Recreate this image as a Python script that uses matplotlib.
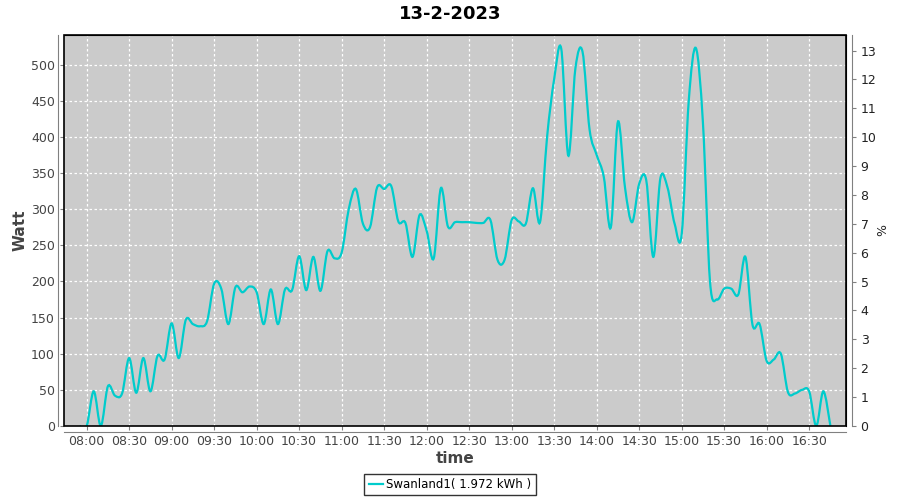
import matplotlib
matplotlib.use("Agg")
import matplotlib.pyplot as plt
from matplotlib.path import Path
from matplotlib.patches import PathPatch
from matplotlib.ticker import FixedLocator, FuncFormatter, MultipleLocator

title = "13-2-2023"
series_name = "Swanland1( 1.972 kWh )"
start_time = "07:55"
step_min = 5
watt = [0, 0, 48, 0, 55, 42, 45, 94, 46, 94, 48, 97, 92, 142, 94, 147, 141, 138,
        145, 197, 190, 141, 192, 185, 193, 185, 141, 189, 141, 189, 188, 235,
        188, 234, 187, 242, 232, 240, 300, 328, 280, 275, 330, 328, 332, 283,
        281, 234, 292, 270, 232, 329, 276, 282, 282, 282, 281, 281, 285, 230,
        230, 285, 283, 280, 329, 282, 400, 480, 522, 374, 495, 518, 410, 375,
        345, 275, 421, 330, 282, 335, 340, 234, 343, 330, 280, 265, 450, 523,
        420, 200, 175, 190, 190, 182, 234, 140, 141, 90, 92, 100, 47, 45, 50,
        48, 0, 48, 0]
tick_labels = ["08:00", "08:30", "09:00", "09:30", "10:00", "10:30", "11:00",
               "11:30", "12:00", "12:30", "13:00", "13:30", "14:00", "14:30",
               "15:00", "15:30", "16:00", "16:30"]


def to_min(s):
    h, m = s.split(":")
    return int(h) * 60 + int(m)


t0 = to_min(start_time)
times = [t0 + i * step_min for i in range(len(watt))]

fig = plt.figure(figsize=(9, 5), dpi=100)
ax = fig.add_axes([64 / 900, 1 - 426 / 500, (846 - 64) / 900, (426 - 35) / 500])
ax.set_facecolor("#cbcbcb")

# smooth curve through the points (like the spline renderer)
pts = list(zip(times, watt))
verts = [pts[0]]
codes = [Path.MOVETO]
for i in range(len(pts) - 1):
    p0 = pts[max(i - 1, 0)]
    p1 = pts[i]
    p2 = pts[i + 1]
    p3 = pts[min(i + 2, len(pts) - 1)]
    c1 = (p1[0] + (p2[0] - p0[0]) / 6, p1[1] + (p2[1] - p0[1]) / 6)
    c2 = (p2[0] - (p3[0] - p1[0]) / 6, p2[1] - (p3[1] - p1[1]) / 6)
    verts += [c1, c2, p2]
    codes += [Path.CURVE4] * 3
line_color = "#00cccc"
ax.add_patch(PathPatch(Path(verts, codes), facecolor="none", edgecolor=line_color,
                       lw=1.6, zorder=3))
ax.plot([], [], color=line_color, lw=1.6, label=series_name)

ax.set_xlim(464, 1016)
ax.set_ylim(0, 541)
ax.xaxis.set_major_locator(FixedLocator([to_min(s) for s in tick_labels]))
ax.xaxis.set_major_formatter(FuncFormatter(lambda v, p: "%02d:%02d" % (int(v) // 60, int(v) % 60)))
ax.yaxis.set_major_locator(MultipleLocator(50))
ax.grid(True, color="white", linestyle=(0, (2, 2)), linewidth=0.9)
ax.set_axisbelow(True)

for side in ["top", "right"]:
    ax.spines[side].set_color("black")
for side in ["left", "bottom"]:
    ax.spines[side].set_visible(False)

ax.tick_params(axis="both", colors="#808080", labelcolor="#444444", labelsize=9, length=3)
ax.set_ylabel("Watt", fontsize=11, color="#444444", fontweight="bold")
ax.yaxis.set_label_coords((28 - 64) / 782, 0.5)
ax.set_xlabel("time", fontsize=11, color="#444444", fontweight="bold")
ax.xaxis.set_label_coords(0.5, (426 - 451) / 391)

# outer axis lines, offset like the original
ax2 = ax.twinx()
ax2.set_ylim(0, 13.54)
ax2.yaxis.set_major_locator(MultipleLocator(1))
ax2.tick_params(axis="y", colors="#808080", labelcolor="#222222", labelsize=9, length=3)
ax2.spines["right"].set_position(("outward", 4))
ax2.spines["right"].set_color("#808080")
ax2.spines["left"].set_position(("outward", 4))
ax2.spines["left"].set_color("#808080")
ax2.spines["bottom"].set_position(("outward", 4))
ax2.spines["bottom"].set_color("#808080")
ax2.spines["top"].set_visible(False)
ax2.set_ylabel("%", fontsize=9, color="#222222")
ax2.yaxis.set_label_coords((876 - 64) / 782, 0.5)

# black plot border
ax.add_patch(plt.Rectangle((0, 0), 1, 1, transform=ax.transAxes, fill=False,
                           edgecolor="black", lw=1.2, zorder=5, clip_on=False))

fig.suptitle(title, fontsize=13, fontweight="bold", y=0.99)
fig.legend(loc="lower center", bbox_to_anchor=(0.5, 0.0), fontsize=8.5, frameon=True,
           fancybox=False, edgecolor="black", handlelength=1.2, handletextpad=0.3,
           borderpad=0.35, borderaxespad=0.4)

fig.savefig("out.png", dpi=100)
